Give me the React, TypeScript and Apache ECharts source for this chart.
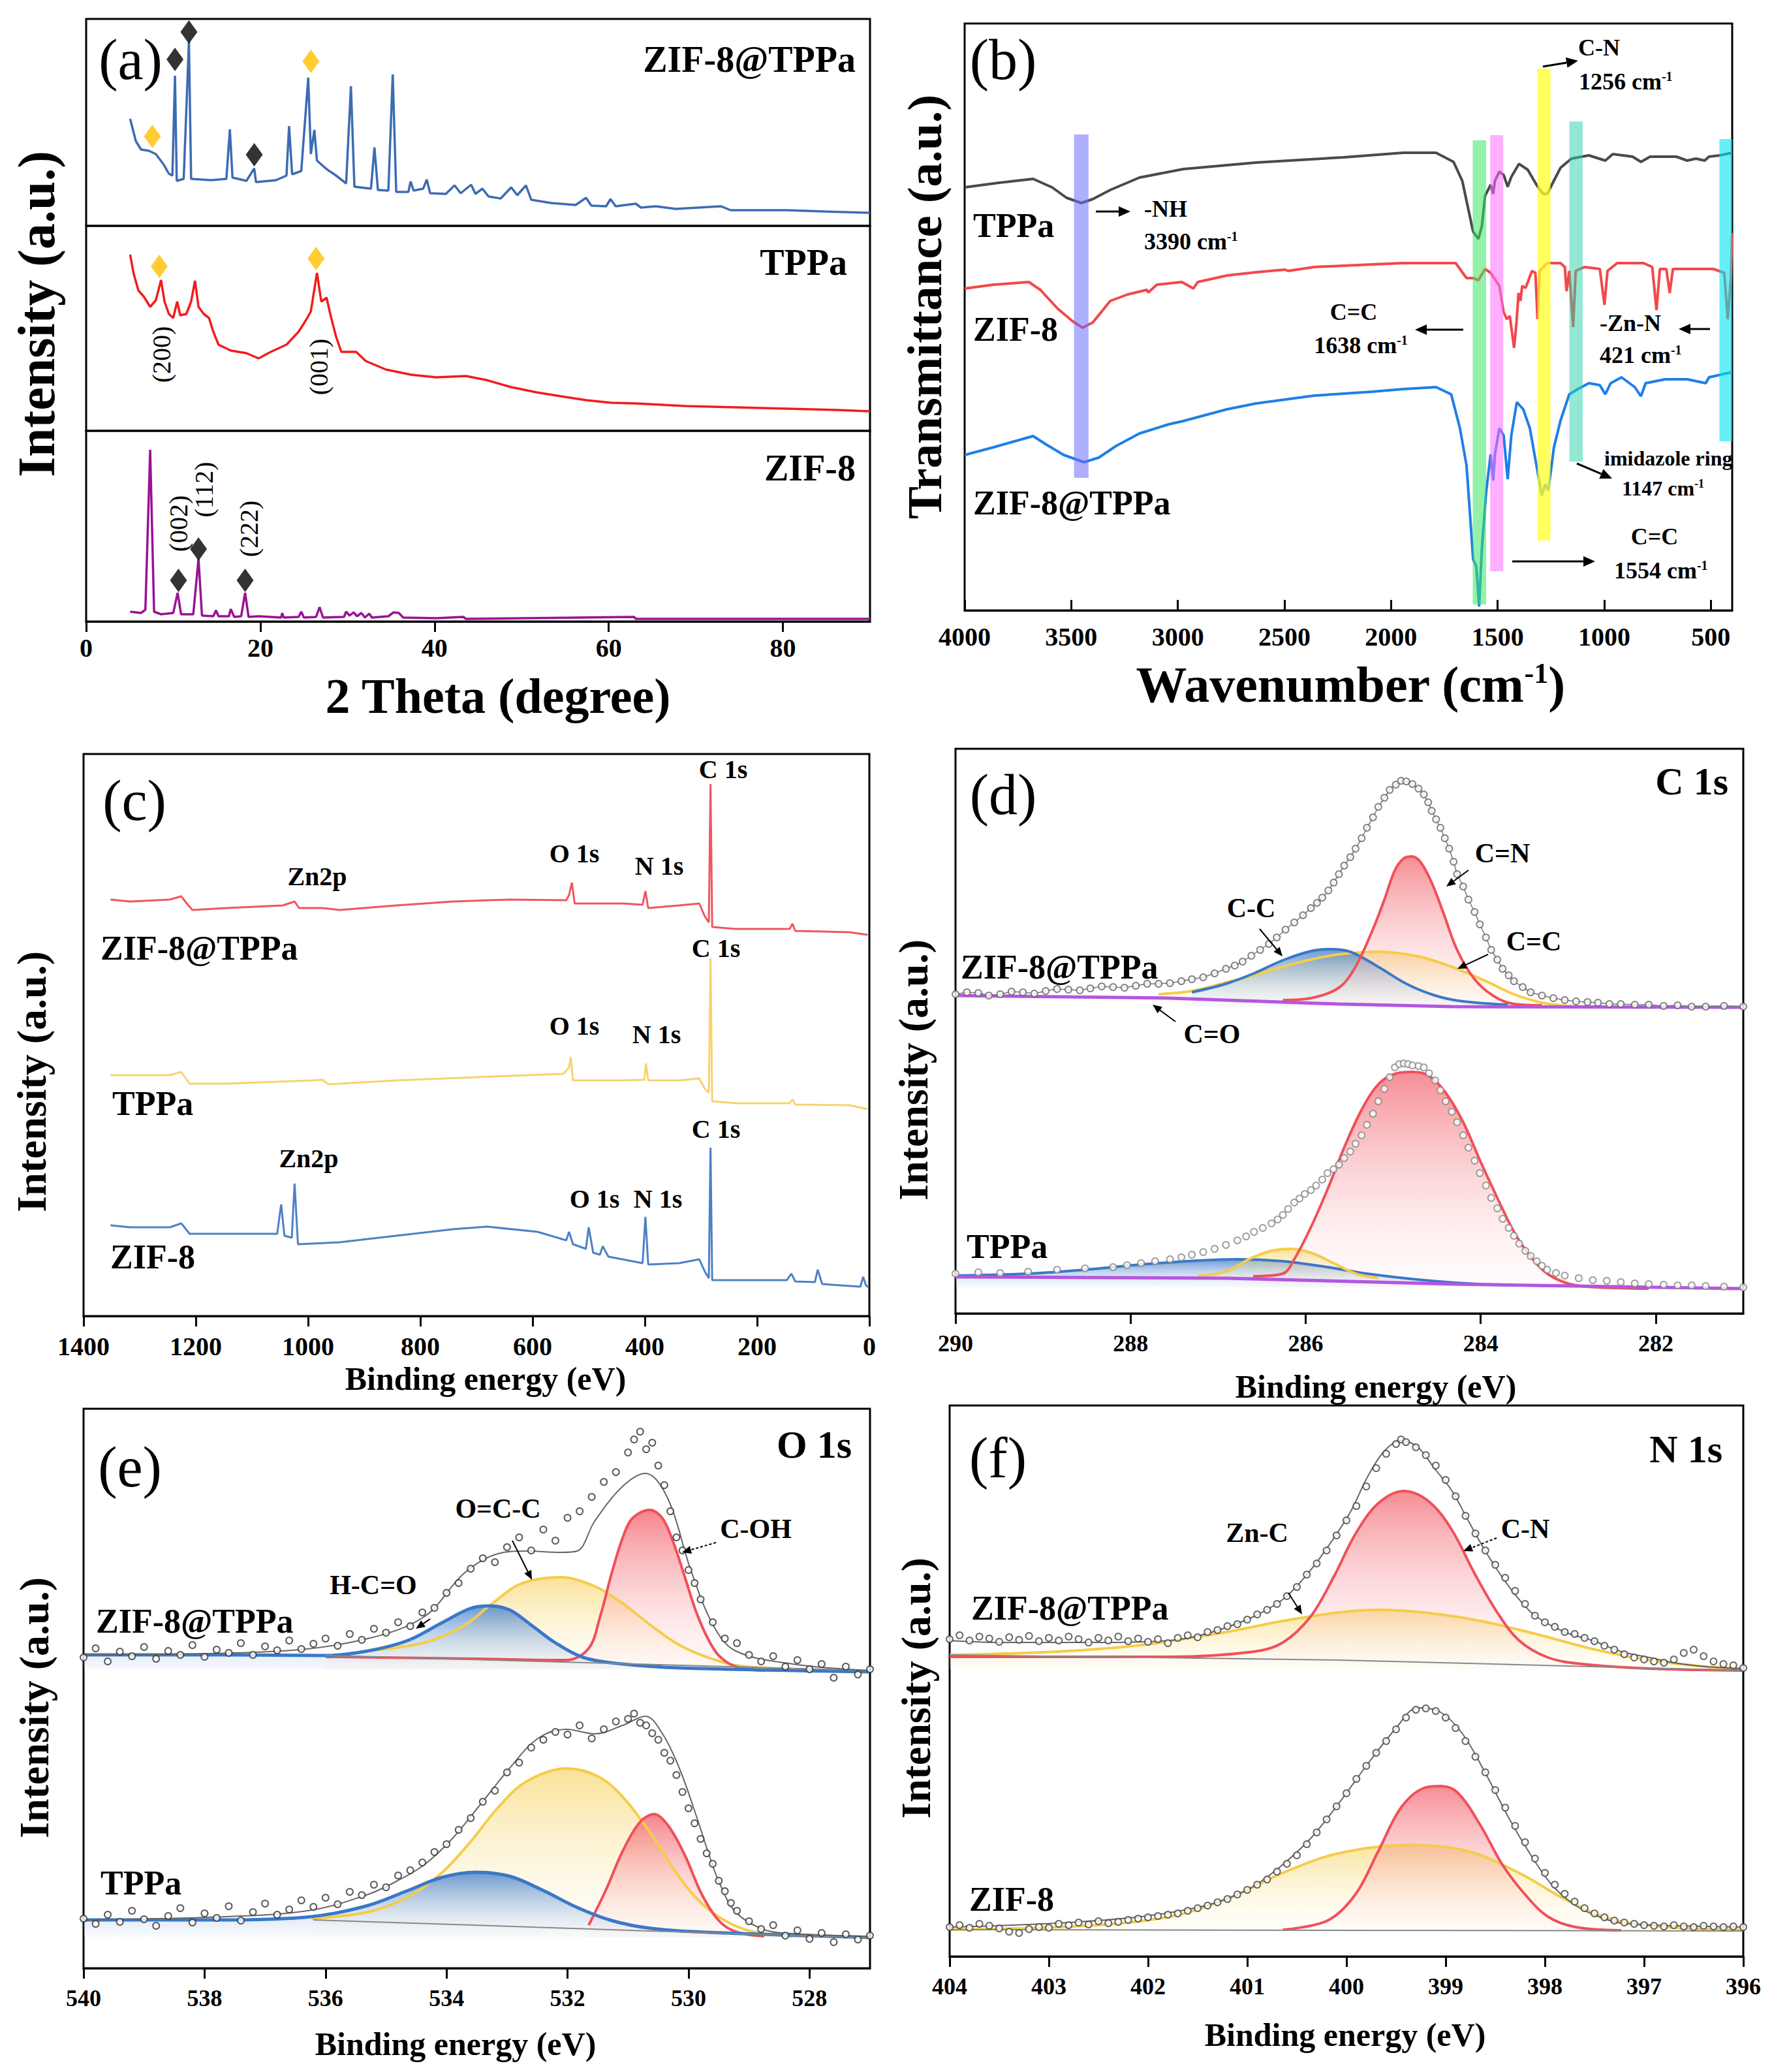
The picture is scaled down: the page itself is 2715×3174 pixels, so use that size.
import React, { useEffect, useRef } from 'react';
import * as echarts from 'echarts';

const SERIF = "'Liberation Serif', 'Times New Roman', serif";

// ---------------- (a) XRD ----------------
const xrdComposite = [[5.05,164],[5.7,130],[6.3,117],[7.2,115],[8.0,110],[8.9,94],[9.5,80],[9.9,77],[10.2,230],[10.4,69],[11.2,72],[11.8,282],[12.05,72],[14.35,70],[16.1,72],[16.5,148],[16.8,74],[18.4,69],[19.3,88],[19.5,67],[21.8,70],[23.0,77],[23.3,153],[23.65,79],[24.7,84],[25.5,227],[25.8,110],[26.2,147],[26.5,100],[27.6,87],[28.7,77],[29.85,65],[30.4,214],[30.8,60],[32.7,57],[33.1,120],[33.5,55],[34.7,54],[35.2,232],[35.6,52],[37.0,52],[37.25,68],[37.6,54],[38.7,57],[39.1,71],[39.5,50],[41.3,49],[42.3,62],[43.0,50],[44.2,63],[44.7,49],[45.5,57],[46.2,45],[47.6,42],[48.8,59],[49.5,47],[50.5,62],[51.1,40],[53.4,35],[56.2,32],[57.4,43],[58.0,31],[59.7,30],[60.2,41],[60.8,30],[63.1,34],[63.7,28],[65.4,30],[67.7,26],[72.9,30],[74.0,24],[80.4,24],[84.9,22],[90,20]];
const xrdTPPa = [[5.05,270],[5.45,241],[6.0,215],[6.6,206],[7.35,190],[8.0,200],[8.6,231],[9.0,198],[9.5,179],[10.0,173],[10.45,198],[10.8,177],[11.5,179],[12.05,198],[12.5,230],[12.9,190],[13.5,179],[14.1,173],[14.6,152],[15.2,132],[16.6,123],[18.4,119],[19.8,111],[21.2,121],[23.0,132],[24.4,152],[25.3,171],[25.8,183],[26.5,242],[27.0,198],[27.6,204],[28.1,175],[28.7,144],[29.3,121],[31.0,121],[32.1,107],[34.4,94],[37.3,86],[40.2,82],[43.6,84],[45.9,78],[48.8,67],[51.7,59],[54.5,53],[57.4,47],[60.3,43],[63.1,42],[68.9,38],[74.6,36],[80.4,34],[86.1,32],[90,30]];
const xrdZIF8 = [[5.05,15],[6.3,13],[6.8,18],[7.35,263],[7.8,15],[8.6,11],[10.0,13],[10.5,44],[10.9,11],[12.3,11],[12.9,96],[13.3,9],[14.6,8],[14.9,17],[15.2,8],[16.4,8],[16.6,19],[17.0,7],[17.8,8],[18.25,44],[18.65,7],[19.8,8],[22.4,6],[22.5,13],[22.7,6],[24.4,7],[24.7,15],[25.0,6],[26.4,7],[26.8,22],[27.2,6],[29.6,7],[29.85,15],[30.25,9],[30.7,14],[31.1,8],[31.6,13],[32.0,6],[32.5,12],[32.8,6],[34.7,8],[35.3,14],[35.9,13],[36.4,6],[40.2,5],[43.3,7],[43.6,4],[62.9,7],[63.1,4],[90,4]];
const diamBlackTop = [[10.2,255],[11.8,297],[19.3,109]];
const diamGoldTop = [[7.6,137],[25.8,252]];
const diamGoldMid = [[8.4,252],[26.4,264]];
const diamBlackBot = [[10.6,63],[12.9,111],[18.25,63]];
const xrdTicks = [0, 20, 40, 60, 80];

// ---------------- (b) FTIR ----------------
const ftirTPPa = [[4000,648],[3863,654],[3679,661],[3590,648],[3522,632],[3453,624],[3399,630],[3317,644],[3180,663],[2975,676],[2633,686],[2223,694],[1943,701],[1789,701],[1707,687],[1666,658],[1636,612],[1615,580],[1590,569],[1574,589],[1559,635],[1533,652],[1521,638],[1513,658],[1492,672],[1472,667],[1453,649],[1436,664],[1400,684],[1359,675],[1318,652],[1287,638],[1267,638],[1246,652],[1205,678],[1154,692],[1072,697],[995,689],[960,699],[867,695],[828,687],[785,695],[662,695],[611,689],[570,692],[529,689],[509,695],[458,697],[400,701]];
const ftirZIF8 = [[4000,493],[3863,499],[3699,503],[3645,491],[3563,462],[3494,443],[3447,433],[3399,441],[3317,474],[3235,484],[3146,491],[3139,487],[3098,499],[2982,503],[2948,497],[2927,493],[2907,503],[2770,513],[2633,518],[2497,522],[2483,520],[2360,526],[2087,530],[1943,532],[1697,532],[1646,509],[1615,509],[1590,506],[1559,523],[1533,517],[1492,497],[1472,457],[1457,446],[1443,451],[1423,402],[1412,440],[1402,486],[1393,474],[1385,497],[1369,494],[1339,520],[1323,517],[1313,446],[1303,520],[1267,532],[1205,532],[1185,526],[1177,489],[1164,520],[1146,434],[1134,520],[1093,526],[1021,523],[999,468],[985,520],[939,532],[816,532],[775,526],[755,460],[739,523],[709,523],[693,486],[678,523],[611,523],[488,523],[437,517],[421,446],[406,509],[402,560],[400,578]];
const ftirZT = [[4000,238],[3863,250],[3679,267],[3617,254],[3535,238],[3440,227],[3371,234],[3289,252],[3180,271],[3043,285],[2975,290],[2907,296],[2770,308],[2633,317],[2360,329],[2087,335],[1943,339],[1789,342],[1718,331],[1677,279],[1646,222],[1631,153],[1615,78],[1600,67],[1587,6],[1574,95],[1554,181],[1533,239],[1521,199],[1513,239],[1492,279],[1472,268],[1453,201],[1436,268],[1410,319],[1380,308],[1349,279],[1318,222],[1293,176],[1277,193],[1262,184],[1236,250],[1205,291],[1164,331],[1124,339],[1072,348],[1021,345],[995,331],[970,348],[919,357],[857,342],[828,328],[806,348],[714,354],[611,354],[524,348],[509,357],[400,365]];
const bandFrom = [3487, 1617, 1535, 1313, 1164, 460];
const bandTo = [3419, 1554, 1474, 1252, 1101, 400];
const bandLow = [203, 9, 60, 107, 228, 259];
const bandHigh = [729, 720, 728, 830, 749, 722];
const ftirTicks = [4000, 3500, 3000, 2500, 2000, 1500, 1000, 500];

// ---------------- (c) XPS survey ----------------
const surveyZT = [[1352,638],[1317,635],[1246,638],[1226,643],[1216,632],[1206,622],[1145,625],[1045,629],[1024,635],[1016,625],[974,625],[944,622],[843,629],[742,635],[641,638],[540,637],[535,645],[530,664],[525,632],[439,632],[404,630],[399,651],[394,625],[339,629],[303,632],[293,612],[286,603],[283,815],[280,596],[238,593],[142,593],[137,601],[132,590],[36,588],[3,584]];
const surveyTPPa = [[1352,369],[1246,369],[1226,374],[1211,356],[1145,356],[994,361],[974,362],[964,355],[843,361],[641,368],[545,371],[535,381],[532,397],[528,361],[439,361],[401,362],[398,387],[394,361],[339,361],[303,364],[293,348],[286,342],[283,548],[280,329],[238,326],[142,326],[137,332],[132,324],[36,323],[3,317]];
const surveyZIF8 = [[1352,139],[1317,136],[1246,136],[1226,142],[1211,126],[1145,126],[1055,126],[1048,171],[1042,123],[1029,120],[1024,203],[1018,110],[944,113],[843,123],[742,133],[681,137],[591,129],[540,116],[535,129],[528,110],[505,103],[500,136],[492,97],[480,94],[475,107],[465,91],[404,81],[399,152],[394,79],[339,81],[303,87],[293,68],[286,58],[283,258],[280,55],[147,55],[139,65],[132,53],[97,52],[92,71],[84,49],[16,45],[11,60],[6,47],[1,44]];

// ---------------- (d) C 1s ----------------
const c1sUpRaw = [[290.00,489],[289.87,492],[289.74,491],[289.62,487],[289.49,489],[289.36,493],[289.23,492],[289.10,490],[288.97,494],[288.84,497],[288.71,496],[288.58,495],[288.46,498],[288.33,501],[288.20,500],[288.07,499],[287.94,502],[287.81,505],[287.68,505],[287.55,506],[287.42,509],[287.30,512],[287.17,515],[287.04,521],[286.91,528],[286.81,533],[286.72,539],[286.62,548],[286.52,557],[286.42,566],[286.33,576],[286.23,588],[286.13,599],[286.03,610],[285.94,621],[285.87,629],[285.81,637],[285.74,648],[285.68,660],[285.62,673],[285.56,686],[285.49,699],[285.43,712],[285.36,728],[285.30,744],[285.23,760],[285.17,776],[285.10,790],[285.04,802],[284.97,810],[284.91,816],[284.85,815],[284.78,811],[284.71,804],[284.65,795],[284.60,783],[284.56,770],[284.51,757],[284.46,744],[284.41,728],[284.36,712],[284.31,692],[284.27,673],[284.20,654],[284.14,634],[284.07,615],[284.01,596],[283.94,576],[283.88,557],[283.81,542],[283.75,528],[283.68,518],[283.62,509],[283.52,500],[283.43,492],[283.30,487],[283.17,483],[283.04,480],[282.91,478],[282.78,477],[282.66,476],[282.53,474],[282.40,474],[282.24,473],[282.08,473],[281.91,471],[281.75,472],[281.59,470],[281.43,470],[281.22,471],[281.00,470]];
const c1sUpCN = [[286.26,480],[285.94,483],[285.62,499],[285.43,531],[285.23,589],[285.10,634],[284.98,679],[284.88,697],[284.79,700],[284.69,692],[284.56,660],[284.43,615],[284.27,557],[284.07,512],[283.85,486],[283.62,474],[283.30,472]];
const c1sUpCC = [[287.30,492],[286.91,505],[286.59,521],[286.26,541],[285.94,555],[285.72,558],[285.49,554],[285.17,531],[284.85,505],[284.52,487],[284.20,478],[283.69,473]];
const c1sUpCeqC = [[287.68,489],[287.30,494],[286.91,507],[286.59,518],[286.26,531],[285.94,542],[285.62,550],[285.17,554],[284.72,547],[284.33,531],[283.94,509],[283.62,489],[283.30,476],[282.91,470]];
const c1sUpCO = [[290.00,487],[287.55,483],[285.62,474],[284.33,470],[281.00,469]];
const c1sLowRaw = [[290.00,61],[289.74,63],[289.49,62],[289.17,64],[288.84,67],[288.52,69],[288.20,71],[288.04,74],[287.88,77],[287.72,80],[287.55,83],[287.42,86],[287.30,90],[287.17,94],[287.04,99],[286.91,105],[286.78,112],[286.68,118],[286.59,125],[286.49,131],[286.39,138],[286.32,144],[286.26,151],[286.20,160],[286.13,170],[286.07,176],[286.01,183],[285.94,189],[285.88,196],[285.81,205],[285.75,215],[285.68,221],[285.62,228],[285.56,238],[285.49,248],[285.43,260],[285.36,273],[285.30,289],[285.23,306],[285.17,325],[285.10,344],[285.04,362],[284.98,377],[284.93,382],[284.88,383],[284.83,382],[284.78,380],[284.71,379],[284.65,377],[284.59,368],[284.52,357],[284.46,342],[284.40,325],[284.33,309],[284.27,293],[284.20,273],[284.14,254],[284.07,234],[284.01,215],[283.94,196],[283.88,177],[283.81,161],[283.75,145],[283.68,131],[283.62,119],[283.56,107],[283.49,96],[283.43,88],[283.36,80],[283.30,73],[283.24,67],[283.14,62],[283.04,58],[282.88,54],[282.72,51],[282.56,50],[282.40,48],[282.24,46],[282.08,45],[281.91,44],[281.75,43],[281.59,43],[281.43,42],[281.22,41],[281.00,40]];
const c1sLowCN = [[286.60,57],[286.26,61],[286.13,83],[285.94,132],[285.75,190],[285.56,254],[285.36,312],[285.17,351],[284.98,367],[284.78,370],[284.59,364],[284.40,338],[284.20,293],[284.01,235],[283.81,177],[283.62,125],[283.43,87],[283.24,61],[282.98,45],[282.66,40],[282.08,38]];
const c1sLowCeqC = [[287.23,58],[286.91,64],[286.65,83],[286.39,96],[286.17,99],[285.94,93],[285.68,77],[285.43,61],[285.17,54]];
const c1sLowCC = [[290.00,58],[289.17,61],[288.52,67],[287.88,75],[287.23,81],[286.78,83],[286.26,80],[285.75,71],[285.30,61],[284.65,51],[284.01,45],[283.04,42]];
const c1sLowCO = [[290.00,56],[286.91,54],[284.33,45],[281.00,38]];
const c1sTicks = [282, 284, 286, 288, 290];

// ---------------- (e) O 1s ----------------
const o1sUpRaw = [[540.0,476],[539.8,490],[539.6,470],[539.4,485],[539.2,478],[539.0,492],[538.8,474],[538.6,486],[538.4,480],[538.2,495],[538.0,477],[537.8,488],[537.6,483],[537.4,498],[537.2,480],[537.0,493],[536.8,487],[536.6,502],[536.4,489],[536.2,497],[536.0,505],[535.8,494],[535.6,512],[535.4,503],[535.2,520],[535.0,514],[534.8,530],[534.6,524],[534.4,545],[534.2,552],[534.0,575],[533.8,590],[533.6,612],[533.4,628],[533.2,622],[533.0,645],[532.8,660],[532.6,640],[532.4,672],[532.2,655],[532.0,690],[531.8,700],[531.6,722],[531.4,745],[531.2,760],[531.0,790],[530.9,810],[530.8,822],[530.7,795],[530.6,805],[530.5,770],[530.4,740],[530.3,700],[530.2,660],[530.1,640],[530.0,610],[529.9,590],[529.8,565],[529.6,530],[529.4,505],[529.2,498],[529.0,480],[528.8,470],[528.6,478],[528.4,462],[528.2,472],[528.0,458],[527.8,466],[527.6,445],[527.4,462],[527.2,450],[527.0,458]];
const o1sUpFit = [[539.98,480],[536.70,486],[535.30,505],[534.36,539],[533.71,605],[533.15,635],[532.68,639],[532.12,637],[531.84,639],[531.55,685],[531.09,738],[530.71,758],[530.34,719],[529.97,612],[529.59,525],[529.22,486],[528.28,466],[527.02,456]];
const o1sUpCOH = [[536.0,477],[533.5,474],[532.02,472],[531.65,490],[531.46,539],[531.27,605],[531.09,659],[530.93,689],[530.64,702],[530.43,689],[530.25,652],[530.06,599],[529.87,545],[529.68,505],[529.50,479],[529.22,462],[528.75,456]];
const o1sUpOCC = [[535.30,486],[534.36,499],[533.71,525],[533.24,559],[532.77,589],[532.12,599],[531.55,585],[531.09,559],[530.62,525],[530.15,495],[529.68,476],[529.22,464],[528.28,458]];
const o1sUpHCO = [[540.0,480],[537.64,480],[536.0,479],[535.30,486],[534.64,502],[534.08,529],[533.61,551],[533.29,555],[532.96,549],[532.59,525],[532.21,499],[531.74,476],[531.09,466],[530.15,460],[527.02,454]];
const o1sUpBase = [[536.0,479],[527.0,456]];
const o1sLowRaw = [[540.0,76],[539.8,68],[539.6,82],[539.4,71],[539.2,88],[539.0,75],[538.8,65],[538.6,80],[538.4,92],[538.2,70],[538.0,84],[537.8,77],[537.6,95],[537.4,73],[537.2,86],[537.0,99],[536.8,82],[536.6,90],[536.4,104],[536.2,94],[536.0,108],[535.8,98],[535.6,117],[535.4,112],[535.2,128],[535.0,124],[534.8,142],[534.6,150],[534.4,162],[534.2,178],[534.0,190],[533.8,212],[533.6,230],[533.4,255],[533.2,272],[533.0,300],[532.8,315],[532.6,338],[532.4,350],[532.2,362],[532.0,358],[531.8,372],[531.6,352],[531.4,366],[531.2,378],[531.0,382],[530.9,390],[530.8,376],[530.7,372],[530.6,360],[530.5,350],[530.4,330],[530.3,318],[530.2,296],[530.1,270],[530.0,245],[529.9,222],[529.8,198],[529.7,176],[529.6,160],[529.5,134],[529.4,118],[529.3,100],[529.2,88],[529.0,72],[528.8,60],[528.6,66],[528.4,50],[528.2,58],[528.0,45],[527.8,54],[527.6,40],[527.4,52],[527.2,44],[527.0,50]];
const o1sLowFit = [[539.98,74],[537.64,79],[536.23,89],[535.30,113],[534.83,133],[534.36,159],[533.90,199],[533.43,252],[532.96,306],[532.49,352],[532.02,366],[531.55,359],[531.09,372],[530.71,386],[530.43,359],[530.15,306],[529.87,233],[529.68,179],[529.50,133],[529.22,86],[528.75,59],[528.28,53],[527.02,49]];
const o1sLowOCC = [[536.23,76],[535.30,86],[534.64,109],[534.08,146],[533.61,193],[533.15,246],[532.68,286],[532.02,306],[531.46,292],[530.99,252],[530.53,193],[530.15,139],[529.78,99],[529.40,73],[528.94,56],[528.28,49]];
const o1sLowCOH = [[531.65,66],[531.37,119],[531.09,179],[530.81,223],[530.57,236],[530.34,219],[530.06,173],[529.78,113],[529.50,73],[529.22,56],[528.75,49]];
const o1sLowHCO = [[540.0,74],[537.64,74],[536.23,79],[535.30,96],[534.64,119],[534.08,139],[533.52,147],[532.96,141],[532.40,119],[531.84,93],[531.27,73],[530.62,61],[529.68,55],[527.02,47]];
const o1sLowBase = [[536.2,74],[527.0,46]];
const o1sTicks = [528, 530, 532, 534, 536, 538, 540];

// ---------------- (f) N 1s ----------------
const n1sUpRaw = [[404.0,486],[403.9,492],[403.8,484],[403.7,490],[403.6,487],[403.5,482],[403.4,489],[403.3,485],[403.2,491],[403.1,483],[403.0,488],[402.9,484],[402.8,490],[402.7,486],[402.6,481],[402.5,488],[402.4,484],[402.3,490],[402.2,483],[402.1,487],[402.0,482],[401.9,486],[401.8,480],[401.7,488],[401.6,492],[401.5,489],[401.4,497],[401.3,500],[401.2,506],[401.1,509],[401.0,516],[400.9,524],[400.8,531],[400.7,540],[400.6,552],[400.5,566],[400.4,585],[400.3,602],[400.2,622],[400.1,645],[400.0,668],[399.9,690],[399.8,720],[399.7,748],[399.6,770],[399.5,785],[399.45,792],[399.4,788],[399.3,780],[399.2,768],[399.1,752],[399.0,730],[398.9,705],[398.8,675],[398.7,648],[398.6,622],[398.5,600],[398.4,580],[398.3,560],[398.2,540],[398.1,522],[398.0,512],[397.9,505],[397.8,497],[397.7,494],[397.6,488],[397.5,483],[397.4,476],[397.3,470],[397.2,463],[397.1,458],[397.0,455],[396.9,452],[396.8,450],[396.7,455],[396.6,465],[396.5,470],[396.4,460],[396.3,452],[396.2,448],[396.1,446],[396.0,442]];
const n1sUpFit = [[404,484],[403.49,481],[402.92,481],[402.35,481],[401.78,484],[401.50,491],[401.21,504],[400.93,521],[400.64,547],[400.42,581],[400.19,627],[399.96,681],[399.79,734],[399.62,774],[399.45,790],[399.28,780],[399.11,747],[398.94,714],[398.77,667],[398.60,621],[398.43,581],[398.26,547],[398.09,521],[397.80,497],[397.52,484],[397.23,467],[396.95,458],[396.66,449],[396.38,444],[396.0,441]];
const n1sUpCN = [[404,459],[401.78,459],[400.93,467],[400.64,481],[400.36,521],[400.13,581],[399.91,647],[399.68,694],[399.42,713],[399.17,697],[398.94,654],[398.71,587],[398.48,527],[398.26,484],[397.97,458],[397.63,448],[396.95,441],[396.0,438]];
const n1sUpZnC = [[404,462],[402.92,467],[402.07,477],[401.21,497],[400.64,514],[400.08,527],[399.68,531],[399.22,527],[398.65,514],[398.09,494],[397.52,471],[396.95,454],[396.38,444],[396.0,441]];
const n1sUpBase = [[404,462],[400.08,454],[396.0,438]];
const n1sLowRaw = [[404.0,45],[403.9,48],[403.8,44],[403.7,50],[403.6,47],[403.5,43],[403.4,38],[403.3,36],[403.2,42],[403.1,45],[403.0,44],[402.9,50],[402.8,48],[402.7,52],[402.6,49],[402.5,54],[402.4,51],[402.3,53],[402.2,56],[402.1,58],[402.0,60],[401.9,62],[401.8,64],[401.7,66],[401.6,70],[401.5,74],[401.4,78],[401.3,83],[401.2,88],[401.1,95],[401.0,102],[400.9,110],[400.8,118],[400.7,130],[400.6,142],[400.5,155],[400.4,172],[400.3,190],[400.2,210],[400.1,230],[400.0,250],[399.9,272],[399.8,292],[399.7,312],[399.6,330],[399.5,348],[399.4,366],[399.3,378],[399.2,380],[399.1,376],[399.0,366],[398.9,350],[398.8,330],[398.7,306],[398.6,282],[398.5,255],[398.4,228],[398.3,200],[398.2,175],[398.1,150],[398.0,128],[397.9,110],[397.8,96],[397.7,84],[397.6,74],[397.5,66],[397.4,60],[397.3,55],[397.2,52],[397.1,50],[397.0,48],[396.9,47],[396.8,46],[396.7,48],[396.6,46],[396.5,45],[396.4,47],[396.3,46],[396.2,45],[396.1,46],[396.0,45]];
const n1sLowFit = [[404,45],[402.92,51],[402.07,61],[401.50,75],[401.21,88],[400.93,108],[400.64,141],[400.36,181],[400.08,234],[399.79,294],[399.51,348],[399.28,381],[399.05,374],[398.83,341],[398.60,281],[398.37,214],[398.14,155],[397.92,108],[397.69,78],[397.46,61],[397.23,51],[396.66,47],[396.0,45]];
const n1sLowCN = [[400.64,41],[400.19,55],[399.91,95],[399.68,161],[399.45,228],[399.22,258],[399.05,261],[398.88,251],[398.65,201],[398.43,141],[398.20,95],[397.97,61],[397.69,45],[397.23,40]];
const n1sLowZnC = [[404,41],[402.63,47],[401.78,61],[401.21,88],[400.64,128],[400.08,158],[399.34,171],[398.77,161],[398.26,128],[397.80,88],[397.35,58],[396.78,45],[396.0,41]];
const n1sLowBase = [[404,41],[396.0,39]];
const n1sTicks = [396, 397, 398, 399, 400, 401, 402, 403, 404];

// ---------------- helpers ----------------
const RED = '#f0505a', BLUE = '#3a78c8', YEL = '#f5cc4a', PURP = '#b456e0';

function grad(top: string, bottom: string) {
  return new echarts.graphic.LinearGradient(0, 0, 0, 1, [
    { offset: 0, color: top },
    { offset: 1, color: bottom },
  ]);
}
function lineS(g: number, data: any, color: string, width: number, extra: any = {}) {
  return { type: 'line', xAxisIndex: g, yAxisIndex: g, data, showSymbol: false, symbol: 'none',
    lineStyle: { color, width }, itemStyle: { color }, silent: true, z: 2, ...extra };
}
function fillS(g: number, data: any, color: string, top: string, bottom: string, origin: number, width = 4) {
  return lineS(g, data, color, width, { smooth: 0.35, areaStyle: { origin, color: grad(top, bottom), opacity: 1 } });
}
function dots(g: number, data: any, color: string, size: number) {
  return { type: 'scatter', xAxisIndex: g, yAxisIndex: g, data, symbol: 'emptyCircle', symbolSize: size,
    itemStyle: { color, borderColor: color, borderWidth: 1.5 }, silent: true, z: 4 };
}
function diam(g: number, data: any, color: string) {
  return { type: 'scatter', xAxisIndex: g, yAxisIndex: g, data, symbol: 'diamond', symbolSize: [26, 36],
    itemStyle: { color }, silent: true, z: 5 };
}
function xAx(g: number, min: number, max: number, o: any) {
  return {
    type: 'value', gridIndex: g, min, max, inverse: !!o.inverse, interval: o.interval,
    show: o.show !== false,
    axisLine: { show: true, onZero: false, lineStyle: { color: '#000', width: 3 } },
    axisTick: { show: true, inside: !!o.inside, length: 16, lineStyle: { color: '#000', width: 3 }, customValues: o.custom },
    axisLabel: { show: true, margin: o.margin, fontSize: o.fs, fontFamily: SERIF, fontWeight: 'bold', color: '#000',
      customValues: o.custom, formatter: (v: number) => String(v) },
    splitLine: { show: false },
  };
}
function yAx(g: number, max: number) {
  return { type: 'value', gridIndex: g, min: 0, max, show: false, splitLine: { show: false } };
}
function txt(x: number, y: number, text: string, size: number, o: any = {}) {
  return {
    type: 'text', x, y, rotation: o.rot || 0, z: 100,
    style: {
      text, fontSize: size, fontFamily: SERIF, fontWeight: o.weight || 'bold', fill: '#000',
      align: o.align || 'center', verticalAlign: 'middle', rich: o.rich,
    },
  };
}
function cmTxt(x: number, y: number, num: string, size: number, align = 'left') {
  const rich = {
    n: { fontSize: size, fontFamily: SERIF, fontWeight: 'bold', fill: '#000' },
    s: { fontSize: Math.round(size * 0.55), fontFamily: SERIF, fontWeight: 'bold', fill: '#000', verticalAlign: 'top' },
  };
  return txt(x, y, `{n|${num} cm}{s|-1}`, size, { align, rich });
}
function arrow(x1: number, y1: number, x2: number, y2: number, o: any = {}) {
  const ang = Math.atan2(y2 - y1, x2 - x1);
  const hl = o.head || 18, hw = o.hw || 8;
  const bx = x2 - hl * Math.cos(ang), by = y2 - hl * Math.sin(ang);
  const px = -Math.sin(ang) * hw, py = Math.cos(ang) * hw;
  return [
    { type: 'line', z: 100, shape: { x1, y1, x2: bx, y2: by }, style: { stroke: '#000', lineWidth: o.w || 3, lineDash: o.dash } },
    { type: 'polygon', z: 100, shape: { points: [[x2, y2], [bx + px, by + py], [bx - px, by - py]] }, style: { fill: '#000' } },
  ];
}

function buildOption() {
  const gridBase = { show: true, borderColor: '#000', borderWidth: 3, backgroundColor: 'transparent', containLabel: false, outerBoundsMode: 'none' };
  const grids = [
    { left: 132, top: 29, width: 1201, height: 317 },
    { left: 132, top: 346, width: 1201, height: 314 },
    { left: 132, top: 660, width: 1201, height: 292 },
    { left: 1478, top: 36, width: 1176, height: 899 },
    { left: 128, top: 1155, width: 1204, height: 861 },
    { left: 1464, top: 1147, width: 1207, height: 865 },
    { left: 128, top: 2158, width: 1205, height: 857 },
    { left: 1455, top: 2153, width: 1216, height: 844 },
  ].map((g) => ({ ...gridBase, ...g }));

  const xAxis = [
    xAx(0, 0, 90, { show: false }),
    xAx(1, 0, 90, { show: false }),
    xAx(2, 0, 90, { custom: xrdTicks, fs: 40, margin: 20 }),
    xAx(3, 400, 4000, { inverse: true, custom: ftirTicks, inside: true, fs: 40, margin: 20 }),
    xAx(4, 0, 1400, { inverse: true, interval: 200, fs: 40, margin: 26 }),
    xAx(5, 281, 290, { inverse: true, custom: c1sTicks, fs: 36, margin: 28 }),
    xAx(6, 527, 540, { inverse: true, custom: o1sTicks, fs: 36, margin: 28 }),
    xAx(7, 396, 404, { inverse: true, custom: n1sTicks, fs: 36, margin: 28 }),
  ];
  const yAxis = [yAx(0, 317), yAx(1, 314), yAx(2, 292), yAx(3, 899), yAx(4, 861), yAx(5, 865), yAx(6, 857), yAx(7, 844)];

  const bandColors = ['rgba(110,110,255,0.55)', 'rgba(60,230,100,0.55)', 'rgba(255,110,255,0.55)', 'rgba(255,255,40,0.75)', 'rgba(40,210,170,0.5)', 'rgba(0,230,240,0.6)'];
  const bandAreas = bandFrom.map((f, i) => [
    { xAxis: f, yAxis: bandLow[i], itemStyle: { color: bandColors[i] } },
    { xAxis: bandTo[i], yAxis: bandHigh[i] },
  ]);

  const series: any[] = [
    // (a)
    lineS(0, xrdComposite, '#3d6bb3', 3.5),
    diam(0, diamBlackTop, '#000'),
    diam(0, diamGoldTop, '#ffc000'),
    lineS(1, xrdTPPa, '#f21c1c', 3.5),
    diam(1, diamGoldMid, '#ffc000'),
    lineS(2, xrdZIF8, '#9a1294', 3.5),
    diam(2, diamBlackBot, '#000'),
    // (b)
    lineS(3, ftirTPPa, '#4a4a4a', 4),
    lineS(3, ftirZIF8, '#f4474a', 4),
    lineS(3, ftirZT, '#1f7fe6', 4),
    { type: 'line', xAxisIndex: 3, yAxisIndex: 3, data: [[2000, 450]], symbol: 'none', showSymbol: false,
      lineStyle: { opacity: 0 }, silent: true, z: 3,
      markArea: { silent: true, z: 3, data: bandAreas } },
    // (c)
    lineS(4, surveyZT, '#f0565f', 3),
    lineS(4, surveyTPPa, '#f7d36e', 3),
    lineS(4, surveyZIF8, '#4d80c4', 3),
    // (d)
    fillS(5, c1sUpCeqC, YEL, 'rgba(245,205,80,0.55)', 'rgba(255,250,225,0.15)', 470),
    fillS(5, c1sUpCC, BLUE, 'rgba(58,120,200,0.75)', 'rgba(210,225,245,0.15)', 470),
    fillS(5, c1sUpCN, RED, 'rgba(240,80,90,0.65)', 'rgba(255,225,225,0.15)', 470),
    lineS(5, c1sUpCO, PURP, 5),
    lineS(5, c1sUpRaw, '#777', 1.5),
    dots(5, c1sUpRaw, '#666', 10),
    fillS(5, c1sLowCC, BLUE, 'rgba(58,120,200,0.75)', 'rgba(210,225,245,0.15)', 40),
    fillS(5, c1sLowCeqC, YEL, 'rgba(245,205,80,0.6)', 'rgba(255,250,225,0.15)', 50),
    fillS(5, c1sLowCN, RED, 'rgba(240,80,90,0.65)', 'rgba(255,225,225,0.1)', 40),
    lineS(5, c1sLowCO, PURP, 5),
    dots(5, c1sLowRaw, '#888', 10),
    // (e)
    fillS(6, o1sUpOCC, YEL, 'rgba(245,205,80,0.6)', 'rgba(255,250,225,0.15)', 458),
    fillS(6, o1sUpCOH, RED, 'rgba(240,80,90,0.7)', 'rgba(255,225,225,0.15)', 458),
    fillS(6, o1sUpHCO, BLUE, 'rgba(58,120,200,0.75)', 'rgba(210,225,245,0.15)', 458, 5),
    lineS(6, o1sUpBase, '#888', 2),
    lineS(6, o1sUpFit, '#666', 2, { smooth: 0.35 }),
    dots(6, o1sUpRaw, '#333', 10),
    fillS(6, o1sLowOCC, YEL, 'rgba(245,205,80,0.6)', 'rgba(255,250,225,0.15)', 48),
    fillS(6, o1sLowCOH, RED, 'rgba(240,80,90,0.7)', 'rgba(255,225,225,0.15)', 48),
    fillS(6, o1sLowHCO, BLUE, 'rgba(58,120,200,0.75)', 'rgba(210,225,245,0.15)', 48, 5),
    lineS(6, o1sLowBase, '#888', 2),
    lineS(6, o1sLowFit, '#666', 2, { smooth: 0.35 }),
    dots(6, o1sLowRaw, '#333', 10),
    // (f)
    fillS(7, n1sUpZnC, YEL, 'rgba(245,205,80,0.55)', 'rgba(255,250,225,0.15)', 440),
    fillS(7, n1sUpCN, RED, 'rgba(240,80,90,0.65)', 'rgba(255,225,225,0.1)', 440),
    lineS(7, n1sUpBase, '#888', 2),
    lineS(7, n1sUpFit, '#666', 2, { smooth: 0.35 }),
    dots(7, n1sUpRaw, '#444', 10),
    fillS(7, n1sLowZnC, YEL, 'rgba(245,205,80,0.55)', 'rgba(255,250,225,0.15)', 40),
    fillS(7, n1sLowCN, RED, 'rgba(240,80,90,0.65)', 'rgba(255,225,225,0.1)', 40),
    lineS(7, n1sLowBase, '#888', 2),
    lineS(7, n1sLowFit, '#666', 2, { smooth: 0.35 }),
    dots(7, n1sLowRaw, '#444', 10),
  ];

  const R = Math.PI / 2;
  const el: any[] = [
    // (a)
    txt(200, 91, '(a)', 88, { weight: 'normal' }),
    txt(1311, 91, 'ZIF-8@TPPa', 56, { align: 'right' }),
    txt(1298, 402, 'TPPa', 56, { align: 'right' }),
    txt(1311, 717, 'ZIF-8', 56, { align: 'right' }),
    txt(247, 543, '(200)', 40, { weight: 'normal', rot: R }),
    txt(488, 562, '(001)', 40, { weight: 'normal', rot: R }),
    txt(273, 802, '(002)', 40, { weight: 'normal', rot: R }),
    txt(312, 750, '(112)', 40, { weight: 'normal', rot: R }),
    txt(381, 810, '(222)', 40, { weight: 'normal', rot: R }),
    txt(763, 1066, '2 Theta (degree)', 76),
    txt(56, 481, 'Intensity (a.u.)', 80, { rot: R }),
    // (b)
    txt(1537, 91, '(b)', 88, { weight: 'normal' }),
    txt(1491, 345, 'TPPa', 52, { align: 'left' }),
    txt(1491, 504, 'ZIF-8', 52, { align: 'left' }),
    txt(1491, 770, 'ZIF-8@TPPa', 52, { align: 'left' }),
    txt(1753, 320, '-NH', 36, { align: 'left' }),
    cmTxt(1753, 370, '3390', 36),
    txt(2418, 73, 'C-N', 36, { align: 'left' }),
    cmTxt(2419, 125, '1256', 36),
    txt(2074, 478, 'C=C', 36),
    cmTxt(2085, 529, '1638', 36, 'center'),
    txt(2451, 495, '-Zn-N', 36, { align: 'left' }),
    cmTxt(2451, 544, '421', 36),
    txt(2458, 702, 'imidazole ring', 32, { align: 'left' }),
    cmTxt(2485, 748, '1147', 32),
    txt(2535, 822, 'C=C', 36),
    cmTxt(2473, 874, '1554', 36),
    ...arrow(1679, 324, 1732, 324),
    ...arrow(2364, 102, 2418, 93),
    ...arrow(2242, 505, 2168, 505),
    ...arrow(2620, 504, 2572, 504),
    ...arrow(2416, 710, 2470, 733),
    ...arrow(2317, 860, 2444, 860),
    {
      type: 'text', x: 2069, y: 1048, z: 100,
      style: {
        text: '{n|Wavenumber (cm}{s|-1}{n|)}', align: 'center', verticalAlign: 'middle',
        rich: {
          n: { fontSize: 78, fontFamily: SERIF, fontWeight: 'bold', fill: '#000' },
          s: { fontSize: 44, fontFamily: SERIF, fontWeight: 'bold', fill: '#000', verticalAlign: 'top' },
        },
      },
    },
    txt(1416, 470, 'Transmittance (a.u.)', 75, { rot: R }),
    // (c)
    txt(206, 1226, '(c)', 88, { weight: 'normal' }),
    txt(1108, 1178, 'C 1s', 40),
    txt(880, 1307, 'O 1s', 40),
    txt(1010, 1326, 'N 1s', 40),
    txt(486, 1342, 'Zn2p', 40),
    txt(154, 1452, 'ZIF-8@TPPa', 52, { align: 'left' }),
    txt(1097, 1452, 'C 1s', 40),
    txt(880, 1571, 'O 1s', 40),
    txt(1006, 1584, 'N 1s', 40),
    txt(172, 1690, 'TPPa', 52, { align: 'left' }),
    txt(1097, 1729, 'C 1s', 40),
    txt(473, 1774, 'Zn2p', 40),
    txt(911, 1836, 'O 1s', 40),
    txt(1008, 1836, 'N 1s', 40),
    txt(169, 1925, 'ZIF-8', 52, { align: 'left' }),
    txt(744, 2112, 'Binding energy (eV)', 50),
    txt(48, 1657, 'Intensity (a.u.)', 64, { rot: R }),
    // (d)
    txt(1537, 1217, '(d)', 88, { weight: 'normal' }),
    txt(2648, 1197, 'C 1s', 60, { align: 'right' }),
    txt(2302, 1307, 'C=N', 42),
    txt(1917, 1391, 'C-C', 42),
    txt(2350, 1442, 'C=C', 42),
    txt(1857, 1584, 'C=O', 42),
    ...arrow(2250, 1333, 2216, 1358, { w: 2, head: 14, hw: 6 }),
    ...arrow(1930, 1423, 1965, 1465, { w: 2, head: 14, hw: 6 }),
    ...arrow(2280, 1462, 2233, 1484, { w: 2, head: 14, hw: 6 }),
    ...arrow(1801, 1565, 1766, 1539, { w: 2, head: 14, hw: 6 }),
    txt(1472, 1481, 'ZIF-8@TPPa', 52, { align: 'left' }),
    txt(1481, 1909, 'TPPa', 52, { align: 'left' }),
    txt(2108, 2124, 'Binding energy (eV)', 50),
    txt(1399, 1639, 'Intensity (a.u.)', 64, { rot: R }),
    // (e)
    txt(199, 2247, '(e)', 88, { weight: 'normal' }),
    txt(1305, 2213, 'O 1s', 60, { align: 'right' }),
    txt(763, 2311, 'O=C-C', 42),
    txt(1158, 2342, 'C-OH', 42),
    txt(572, 2428, 'H-C=O', 42),
    ...arrow(785, 2360, 815, 2420, { w: 2, head: 14, hw: 6 }),
    ...arrow(1097, 2363, 1045, 2378, { w: 2, head: 14, hw: 6, dash: [4, 3] }),
    ...arrow(659, 2480, 637, 2495, { w: 2, head: 14, hw: 6 }),
    txt(147, 2483, 'ZIF-8@TPPa', 52, { align: 'left' }),
    txt(154, 2884, 'TPPa', 52, { align: 'left' }),
    txt(698, 3131, 'Binding energy (eV)', 50),
    txt(52, 2616, 'Intensity (a.u.)', 64, { rot: R }),
    // (f)
    txt(1529, 2233, '(f)', 88, { weight: 'normal' }),
    txt(2639, 2220, 'N 1s', 60, { align: 'right' }),
    txt(1926, 2348, 'Zn-C', 42),
    txt(2337, 2342, 'C-N', 42),
    ...arrow(1974, 2440, 1995, 2473, { w: 2, head: 14, hw: 6 }),
    ...arrow(2293, 2356, 2242, 2376, { w: 2, head: 14, hw: 6, dash: [4, 3] }),
    txt(1488, 2463, 'ZIF-8@TPPa', 52, { align: 'left' }),
    txt(1485, 2909, 'ZIF-8', 52, { align: 'left' }),
    txt(2061, 3117, 'Binding energy (eV)', 50),
    txt(1403, 2586, 'Intensity (a.u.)', 64, { rot: R }),
  ];

  return {
    animation: false,
    backgroundColor: '#ffffff',
    textStyle: { fontFamily: SERIF },
    grid: grids,
    xAxis,
    yAxis,
    series,
    graphic: { elements: el },
  };
}

export default function App() {
  const ref = useRef<HTMLDivElement>(null);
  useEffect(() => {
    document.body.style.margin = '0';
    const chart = echarts.init(ref.current as HTMLDivElement, null, { renderer: 'svg' });
    chart.setOption(buildOption() as any);
    return () => chart.dispose();
  }, []);
  return <div ref={ref} style={{ width: 2715, height: 3174, background: '#fff' }} />;
}
